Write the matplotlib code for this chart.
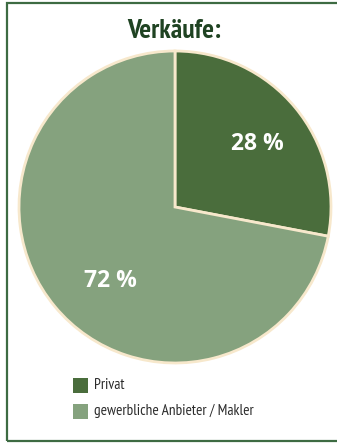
import matplotlib
matplotlib.use("Agg")
import matplotlib.pyplot as plt
from matplotlib.patches import Rectangle

categories = ["Privat", "gewerbliche Anbieter / Makler"]
values = [28, 72]
labels = ["28 %", "72 %"]
colors = ["#4a6d3c", "#85a27e"]

cond = ["PT Sans Narrow", "DejaVu Sans"]
semi = ["Open Sans", "DejaVu Sans"]

W, H = 337, 444
fig = plt.figure(figsize=(W / 100, H / 100), dpi=100)
fig.patch.set_facecolor("white")

# frame
fig.add_artist(Rectangle((6.5 / W, 3 / H), 1.2, (441 - 3.5) / H, transform=fig.transFigure,
                         fill=False, edgecolor="#3d6b42", linewidth=1.6))

cx, cy, r = 175, 207, 156
ax = fig.add_axes([(cx - r) / W, 1 - (cy + r) / H, 2 * r / W, 2 * r / H])
wedges, _ = ax.pie(values, colors=colors, startangle=90, counterclock=False,
                   wedgeprops=dict(edgecolor="#f7e8cc", linewidth=2.0))
ax.set_xlim(-1, 1)
ax.set_ylim(-1, 1)
ax.set_aspect("equal")
ax.axis("off")

label_pos = [(257, 144), (110, 281)]
for lab, (px, py) in zip(labels, label_pos):
    fig.text(px / W, 1 - py / H, lab, ha="center", va="center", color="white",
             fontsize=16.5, fontweight="bold", family=semi)

fig.text(174 / W, 1 - 31 / H, "Verkäufe:", ha="center", va="center", color="#1f4322",
         fontsize=20, fontweight="bold", family=cond)

leg_y = [385, 411]
for cat, col, y in zip(categories, colors, leg_y):
    fig.add_artist(Rectangle((73 / W, 1 - (y + 8) / H), 15 / W, 15 / H,
                             transform=fig.transFigure, facecolor=col, edgecolor="none"))
    fig.text(94 / W, 1 - y / H, cat, ha="left", va="center", color="#2b2b2b",
             fontsize=11, family=cond)

fig.savefig("out.png", dpi=100, facecolor="white")
